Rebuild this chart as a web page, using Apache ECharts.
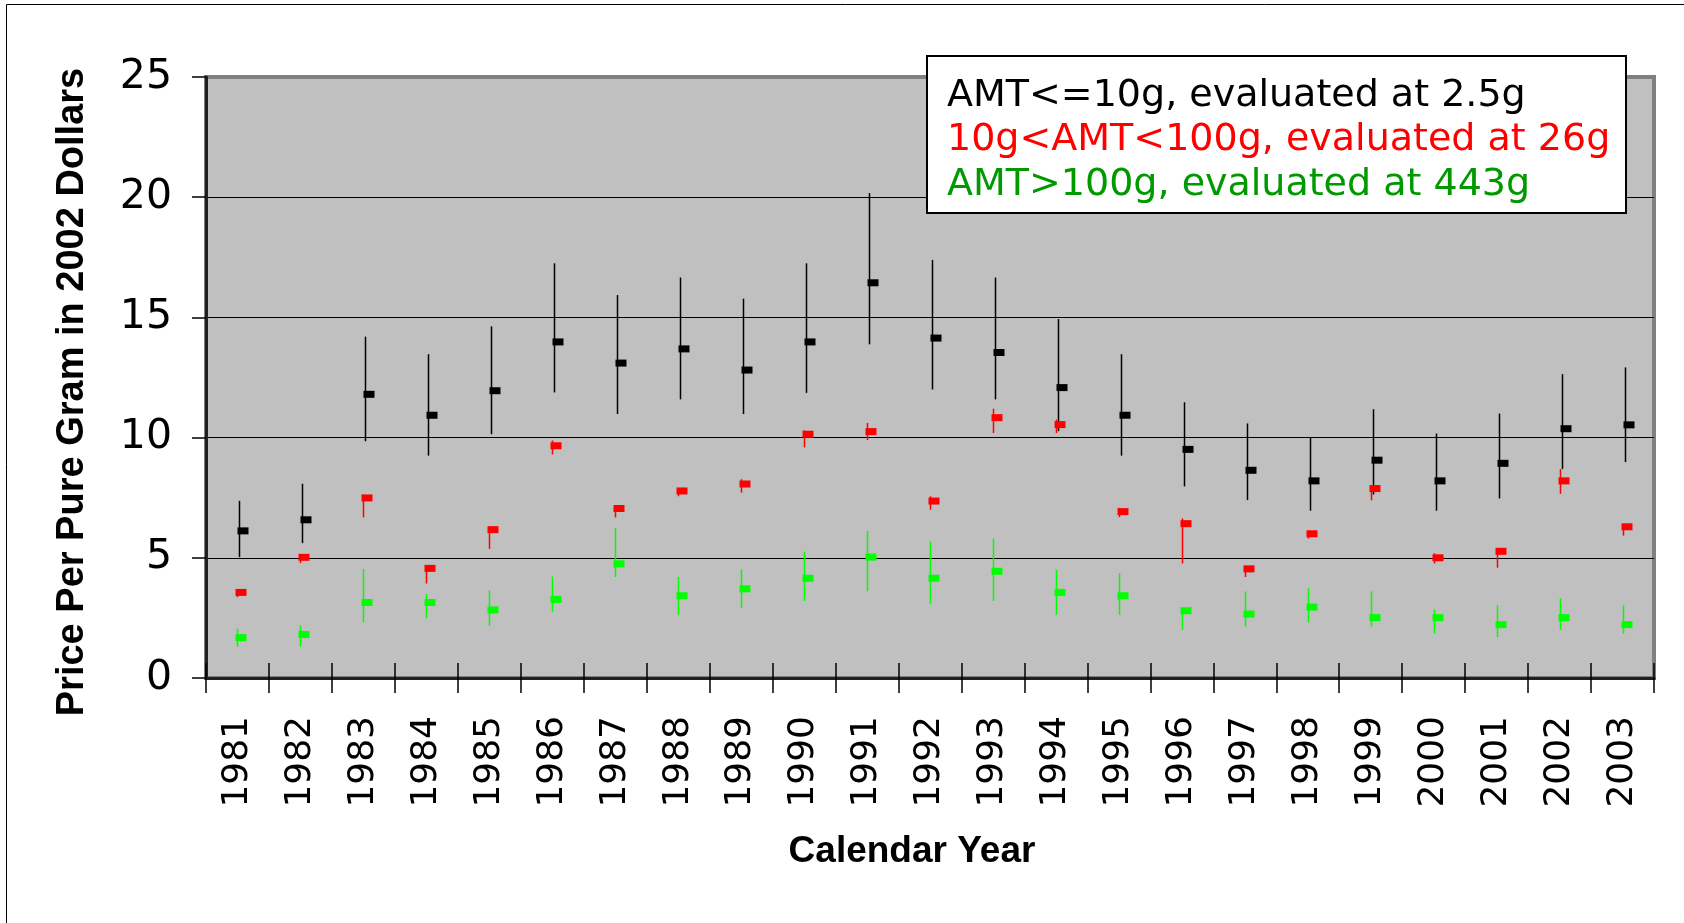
<!DOCTYPE html>
<html>
<head>
<meta charset="utf-8">
<script src="https://cdn.jsdelivr.net/npm/echarts@6/dist/echarts.min.js"></script>
<style>
  html, body { margin: 0; padding: 0; background: #fff; }
  #chart { width: 1684px; height: 923px; }
</style>
</head>
<body>
<div id="chart"></div>
<script>
const years = ['1981', '1982', '1983', '1984', '1985', '1986', '1987', '1988', '1989', '1990', '1991', '1992',
  '1993', '1994', '1995', '1996', '1997', '1998', '1999', '2000', '2001', '2002', '2003']

// AMT<=10g
const smallMean = [6.12, 6.58, 11.8, 10.93, 11.95, 13.98, 13.1, 13.69, 12.81, 13.98, 16.44, 14.14, 13.54, 12.08, 10.93, 9.51, 8.64, 8.2, 9.06, 8.2, 8.93, 10.37, 10.53]
const smallLow = [5.03, 5.61, 9.85, 9.25, 10.14, 11.88, 10.98, 11.59, 10.98, 11.86, 13.88, 12.0, 11.59, 10.27, 9.25, 7.97, 7.4, 6.96, 7.63, 6.96, 7.47, 8.69, 8.98]
const smallHigh = [7.37, 8.08, 14.2, 13.47, 14.63, 17.25, 15.93, 16.66, 15.78, 17.25, 20.17, 17.39, 16.66, 14.93, 13.47, 11.47, 10.59, 10.0, 11.18, 10.17, 11.0, 12.64, 12.92]

// 10g<AMT<100g
const midMean = [3.56, 5.02, 7.49, 4.56, 6.17, 9.66, 7.05, 7.78, 8.07, 10.14, 10.25, 7.36, 10.83, 10.54, 6.92, 6.42, 4.54, 6.0, 7.88, 5.0, 5.27, 8.2, 6.29]
const midLow = [3.36, 4.78, 6.68, 3.93, 5.37, 9.3, 6.68, 7.56, 7.71, 9.59, 9.9, 7.0, 10.19, 10.19, 6.69, 4.76, 4.2, 5.8, 7.39, 4.76, 4.59, 7.66, 5.92]
const midHigh = [3.7, 5.13, 7.63, 4.69, 6.31, 9.88, 7.17, 7.9, 8.27, 10.3, 10.61, 7.56, 11.2, 10.75, 7.08, 6.64, 4.6, 6.05, 7.95, 5.19, 5.3, 8.69, 6.35]

// AMT>100g
const largeMean = [1.68, 1.81, 3.14, 3.14, 2.83, 3.27, 4.75, 3.42, 3.71, 4.15, 5.03, 4.15, 4.44, 3.56, 3.42, 2.8, 2.66, 2.95, 2.51, 2.51, 2.22, 2.51, 2.22]
const largeLow = [1.3, 1.3, 2.32, 2.49, 2.17, 2.76, 4.2, 2.61, 2.92, 3.2, 3.61, 3.07, 3.2, 2.63, 2.63, 2.0, 2.14, 2.31, 2.14, 1.85, 1.71, 2.0, 1.85]
const largeHigh = [2.05, 2.19, 4.53, 3.49, 3.64, 4.22, 6.24, 4.2, 4.51, 5.25, 6.12, 5.68, 5.81, 4.51, 4.37, 2.9, 3.6, 3.73, 3.6, 2.85, 3.03, 3.32, 3.03]

const yTicks = [0, 5, 10, 15, 20, 25]

const legendLines = [
  { text: 'AMT<=10g, evaluated at 2.5g', color: '#000000' },
  { text: '10g<AMT<100g, evaluated at 26g', color: '#ff0000' },
  { text: 'AMT>100g, evaluated at 443g', color: '#009900' },
]

function rows(mean, low, high) {
  return years.map((y, i) => [i, mean[i], low[i], high[i]])
}

function errSeries(name, mean, low, high, color, shift) {
  return {
    name: name,
    type: 'custom',
    data: rows(mean, low, high),
    encode: { x: 0, y: [1, 2, 3] },
    renderItem: (params, api) => {
      const m = api.coord([api.value(0), api.value(1)])
      const lo = api.coord([api.value(0), api.value(2)])
      const hi = api.coord([api.value(0), api.value(3)])
      const x = Math.round(m[0] + shift) + 0.5
      return {
        type: 'group',
        children: [
          { type: 'line', shape: { x1: x, y1: lo[1], x2: x, y2: hi[1] }, style: { stroke: color, lineWidth: 1.5 } },
          { type: 'rect', shape: { x: x - 2, y: m[1] - 3.5, width: 11, height: 7 }, style: { fill: color } },
        ],
      }
    },
  }
}

const chart = echarts.init(document.getElementById('chart'))

const gridLeft = 206, gridTop = 77, gridRight = 1654, gridBottom = 678

chart.setOption({
  animation: false,
  textStyle: { fontFamily: 'DejaVu Sans' },
  grid: {
    left: gridLeft, top: gridTop, right: 1684 - gridRight, bottom: 923 - gridBottom,
    show: true, backgroundColor: '#c0c0c0', borderColor: '#808080', borderWidth: 4,
  },
  xAxis: [
    {
      type: 'category',
      data: years,
      boundaryGap: true,
      axisLine: { lineStyle: { color: '#202020', width: 3 } },
      axisTick: { show: true, length: 15, lineStyle: { color: '#000', width: 1.5 } },
      axisLabel: { rotate: 90, margin: 38, fontSize: 36, color: '#000', fontFamily: 'DejaVu Sans' },
      splitLine: { show: false },
    },
    {
      type: 'category',
      data: years,
      position: 'bottom',
      boundaryGap: true,
      axisLine: { show: false },
      axisTick: { show: true, inside: true, length: 15, lineStyle: { color: '#000', width: 1.5 } },
      axisLabel: { show: false },
    },
  ],
  yAxis: {
    type: 'value',
    min: yTicks[0],
    max: yTicks[yTicks.length - 1],
    interval: 5,
    axisLine: { show: true, lineStyle: { color: '#202020', width: 3 } },
    axisTick: { show: true, length: 14, lineStyle: { color: '#000', width: 1.5 } },
    axisLabel: { margin: 34, fontSize: 41, color: '#000', fontFamily: 'DejaVu Sans' },
    splitLine: { show: true, lineStyle: { color: ['#000', '#000', '#000', '#000', '#000', '#808080'], width: 1 } },
  },
  graphic: [
    { type: 'rect', shape: { x: 6.5, y: 4.5, width: 1800, height: 1000 }, style: { fill: 'none', stroke: '#000', lineWidth: 1 }, z: 0 },
    {
      type: 'text', x: 73, y: 392, rotation: Math.PI / 2,
      style: { text: 'Price Per Pure Gram in 2002 Dollars', font: 'bold 38px "Liberation Sans Narrow", "Liberation Sans"', fill: '#000', align: 'center', verticalAlign: 'middle' },
    },
    {
      type: 'text', x: 912, y: 852,
      style: { text: 'Calendar Year', font: 'bold 37px "Liberation Sans Narrow", "Liberation Sans"', fill: '#000', align: 'center', verticalAlign: 'middle' },
    },
    {
      type: 'rect', shape: { x: 927, y: 56, width: 699, height: 157 },
      style: { fill: '#fff', stroke: '#000', lineWidth: 2 }, z: 10,
    },
    ...legendLines.map((l, i) => ({
      type: 'text', x: 947, y: 96 + i * 44.5, z: 11,
      style: { text: l.text, font: '38px "DejaVu Sans"', fill: l.color, align: 'left', verticalAlign: 'middle' },
    })),
  ],
  series: [
    errSeries('AMT<=10g', smallMean, smallLow, smallHigh, '#000000', 2),
    errSeries('10g<AMT<100g', midMean, midLow, midHigh, '#ff0000', 0),
    errSeries('AMT>100g', largeMean, largeLow, largeHigh, '#00ff00', 0),
  ],
})
</script>
</body>
</html>
